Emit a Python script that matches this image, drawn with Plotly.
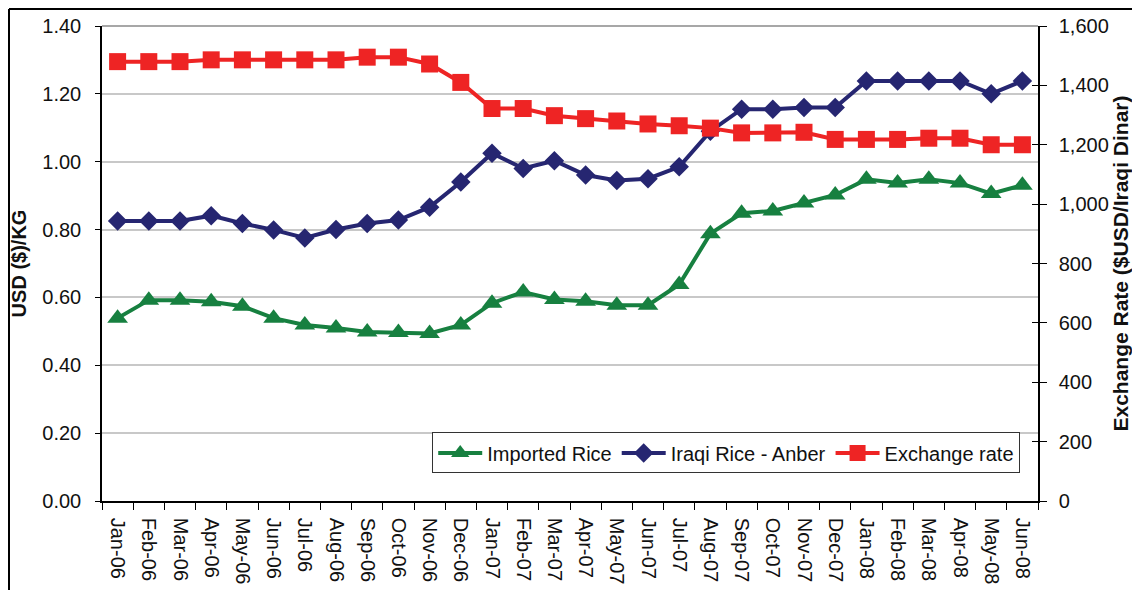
import plotly.graph_objects as go

# ── 데이터 ─────────────────────────────────────────────
months = [
    "Jan-06", "Feb-06", "Mar-06", "Apr-06", "May-06", "Jun-06",
    "Jul-06", "Aug-06", "Sep-06", "Oct-06", "Nov-06", "Dec-06",
    "Jan-07", "Feb-07", "Mar-07", "Apr-07", "May-07", "Jun-07",
    "Jul-07", "Aug-07", "Sep-07", "Oct-07", "Nov-07", "Dec-07",
    "Jan-08", "Feb-08", "Mar-08", "Apr-08", "May-08", "Jun-08",
]

imported_rice = [
    0.539, 0.592, 0.592, 0.587, 0.574, 0.539,
    0.519, 0.510, 0.498, 0.497, 0.494, 0.519,
    0.583, 0.616, 0.594, 0.589, 0.577, 0.577,
    0.638, 0.788, 0.848, 0.855, 0.878, 0.902,
    0.948, 0.937, 0.948, 0.937, 0.906, 0.931,
]

iraqi_rice_anber = [
    0.825, 0.825, 0.825, 0.841, 0.818, 0.799,
    0.775, 0.800, 0.818, 0.828, 0.866, 0.940,
    1.025, 0.980, 1.003, 0.961, 0.945, 0.950,
    0.985, 1.090, 1.155, 1.155, 1.160, 1.160,
    1.238, 1.238, 1.238, 1.238, 1.200, 1.238,
]

exchange_rate = [
    1480, 1480, 1480, 1486, 1486, 1486,
    1486, 1486, 1495, 1495, 1472, 1410,
    1322, 1322, 1298, 1288, 1280, 1270,
    1264, 1256, 1240, 1240, 1242, 1218,
    1218, 1218, 1222, 1222, 1200, 1200,
]

GREEN = "#178040"
NAVY = "#262671"
RED = "#ee2424"
FONT = "Liberation Sans, Arial, sans-serif"

# 페이지 body 여백(8px)을 감안한 크기
W, H = 1132, 582
ML, MR, MT, MB = 94, 102, 18, 89
PW, PH = W - ML - MR, H - MT - MB

fig = go.Figure()

fig.add_trace(go.Scatter(
    x=months, y=imported_rice, name="Imported Rice",
    mode="lines+markers",
    line=dict(color=GREEN, width=4),
    marker=dict(symbol="triangle-up", size=18, color=GREEN),
))
fig.add_trace(go.Scatter(
    x=months, y=iraqi_rice_anber, name="Iraqi Rice - Anber",
    mode="lines+markers",
    line=dict(color=NAVY, width=4),
    marker=dict(symbol="diamond", size=15, color=NAVY),
))
# 오른쪽 축 안쪽 눈금용 (보이지 않는 trace)
fig.add_trace(go.Scatter(
    x=months, y=exchange_rate, yaxis="y3", mode="lines",
    line=dict(width=0), opacity=0, showlegend=False, hoverinfo="skip",
))
fig.add_trace(go.Scatter(
    x=months, y=exchange_rate, name="Exchange rate",
    mode="lines+markers", yaxis="y2",
    line=dict(color=RED, width=4),
    marker=dict(symbol="square", size=17, color=RED),
))

# 바깥 테두리 (위/왼쪽) - 그림 가장자리
edge_x = -(ML - 1) / PW
edge_y = 1 + (MT - 1) / PH
fig.add_shape(type="line", xref="paper", yref="paper",
              x0=edge_x, x1=1.2, y0=edge_y, y1=edge_y,
              line=dict(color="black", width=2))
fig.add_shape(type="line", xref="paper", yref="paper",
              x0=edge_x, x1=edge_x, y0=edge_y, y1=-0.3,
              line=dict(color="black", width=2))
# 플롯 상단 테두리
fig.add_shape(type="line", xref="paper", yref="paper",
              x0=0, x1=1, y0=1, y1=1,
              line=dict(color="#8a8a8a", width=1.5))

fig.update_layout(
    width=W, height=H,
    paper_bgcolor="white", plot_bgcolor="white",
    font=dict(family=FONT, size=20, color="#111111"),
    margin=dict(l=ML, r=MR, t=MT, b=MB, autoexpand=False),
    showlegend=True,
    legend=dict(
        orientation="h", x=0.981, xanchor="right", y=0.058, yanchor="bottom",
        bgcolor="white", bordercolor="#333333", borderwidth=1,
        font=dict(size=20), itemwidth=44, tracegroupgap=0,
    ),
    xaxis=dict(
        type="category", range=[-0.5, 29.5], automargin=False,
        tickangle=90, tickson="boundaries",
        ticks="outside", ticklen=7, tickcolor="black",
        showline=True, linecolor="black", linewidth=1.5,
        showgrid=False, ticklabelstandoff=11,
        tickfont=dict(size=20),
    ),
    yaxis=dict(
        range=[0, 1.4], dtick=0.2, tickformat=".2f", automargin=False,
        ticks="outside", ticklen=5, tickcolor="black",
        showline=True, linecolor="black", linewidth=1.5,
        showgrid=True, gridcolor="#c8c8c8", gridwidth=1.5,
        zeroline=False, tickfont=dict(size=20), ticklabelstandoff=10,
        title=dict(text="<b>USD ($)/KG</b>", font=dict(size=20), standoff=13),
    ),
    yaxis2=dict(
        overlaying="y", side="right", automargin=False,
        range=[0, 1600], dtick=200, tickformat=",",
        ticks="outside", ticklen=7, tickcolor="black",
        showline=True, linecolor="black", linewidth=1.5,
        showgrid=False, zeroline=False, tickfont=dict(size=20),
        ticklabelstandoff=8,
        title=dict(text="<b>Exchange Rate ($USD/Iraqi Dinar)</b>",
                   font=dict(size=21), standoff=3),
    ),
    yaxis3=dict(
        overlaying="y", side="right", automargin=False,
        range=[0, 1600], dtick=200,
        ticks="inside", ticklen=6, tickcolor="black",
        showticklabels=False, showline=False, showgrid=False, zeroline=False,
    ),
)

fig.write_html("out.html")
